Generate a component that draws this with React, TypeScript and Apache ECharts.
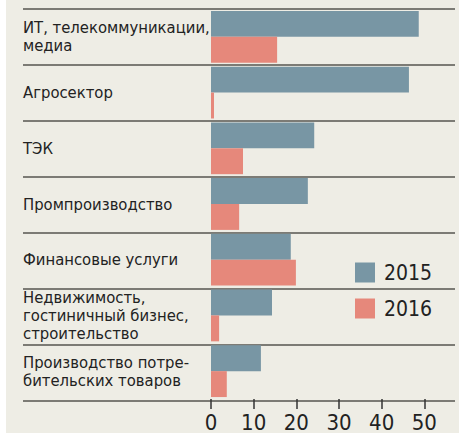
import React, { useEffect, useRef } from "react";
import * as echarts from "echarts";

const categories = [
  "ИТ, телекоммуникации,\nмедиа",
  "Агросектор",
  "ТЭК",
  "Промпроизводство",
  "Финансовые услуги",
  "Недвижимость,\nгостиничный бизнес,\nстроительство",
  "Производство потре-\nбительских товаров",
];
const values2015 = [48.7, 46.4, 24.2, 22.7, 18.7, 14.3, 11.7];
const values2016 = [15.5, 0.7, 7.5, 6.6, 19.9, 1.9, 3.7];
const tickValues = [0, 10, 20, 30, 40, 50];

const FONT = '"DejaVu Sans Condensed", "Liberation Sans Narrow", "Noto Sans", sans-serif';

export default function App() {
  const ref = useRef<HTMLDivElement>(null);
  useEffect(() => {
    document.body.style.margin = "0";
    const chart = echarts.init(ref.current!, null, { renderer: "svg" });
    chart.setOption({
      animation: false,
      backgroundColor: "#eeede5",
      textStyle: { fontFamily: FONT },
      legend: {
        orient: "vertical",
        left: 349,
        top: 262,
        padding: 0,
        itemWidth: 20,
        itemHeight: 20,
        itemGap: 15,
        icon: "rect",
        textStyle: { fontSize: 21, color: "#222", fontFamily: FONT, padding: [0, 0, 0, 4] },
        data: ["2015", "2016"],
      },
      grid: [
        { left: 205, right: 4, top: 9, bottom: 32 },
        { left: 17, right: 4, top: 9, bottom: 32 },
      ],
      xAxis: [
        {
          type: "value",
          gridIndex: 0,
          min: 0,
          max: 57.2,
          interval: 10,
          splitLine: { show: false },
          axisLine: { show: false },
          axisTick: {
            show: true,
            length: 10,
            lineStyle: { color: "#333", width: 1.5 },
            customValues: tickValues,
          },
          axisLabel: {
            fontSize: 22,
            color: "#222",
            margin: 12,
            fontFamily: FONT,
            customValues: tickValues,
          },
        },
        { type: "value", gridIndex: 1, show: false, min: 0, max: 1 },
      ],
      yAxis: [
        {
          type: "category",
          gridIndex: 0,
          inverse: true,
          data: categories,
          axisLine: { show: false },
          axisTick: { show: false },
          splitLine: { show: false },
          axisLabel: {
            align: "left",
            margin: 188,
            fontSize: 16.5,
            lineHeight: 18,
            color: "#222",
            fontFamily: FONT,
            width: 200,
            overflow: "none",
          },
        },
        {
          type: "category",
          gridIndex: 1,
          inverse: true,
          data: categories,
          axisLine: { show: false },
          axisTick: { show: false },
          axisLabel: { show: false },
          splitLine: { show: true, lineStyle: { color: "#7c7b75", width: 2 } },
        },
      ],
      series: [
        {
          name: "2015",
          type: "bar",
          xAxisIndex: 0,
          yAxisIndex: 0,
          data: values2015,
          barGap: "0%",
          barCategoryGap: "7%",
          itemStyle: { color: "#7896a4" },
        },
        {
          name: "2016",
          type: "bar",
          xAxisIndex: 0,
          yAxisIndex: 0,
          data: values2016,
          barGap: "0%",
          barCategoryGap: "7%",
          itemStyle: { color: "#e6887b" },
        },
      ],
    });
    return () => chart.dispose();
  }, []);
  return (
    <div style={{ position: "fixed", left: 0, top: 0, width: 459, height: 433, background: "#fff" }}>
      <div ref={ref} style={{ position: "absolute", left: 6, top: 0, width: 453, height: 433 }} />
    </div>
  );
}
